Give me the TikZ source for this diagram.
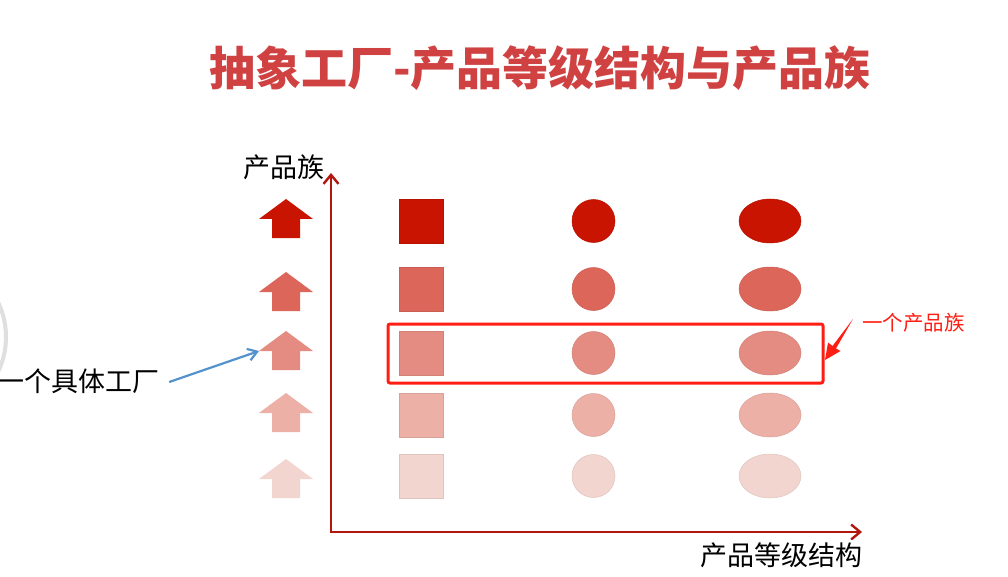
\documentclass[tikz,border=0pt]{standalone}
\usepackage{fontspec}
\newfontfamily\cjk{Noto Sans CJK SC}
\usetikzlibrary{arrows.meta,shapes.geometric}
\definecolor{c1}{RGB}{200,20,0}
\definecolor{c2}{RGB}{221,102,90}
\definecolor{c3}{RGB}{228,140,130}
\definecolor{c4}{RGB}{236,176,166}
\definecolor{c5}{RGB}{243,213,207}
\definecolor{titlered}{RGB}{208,66,66}
\definecolor{axisred}{RGB}{178,22,12}
\definecolor{boxred}{RGB}{255,30,20}
\definecolor{bluea}{RGB}{84,146,204}
\tikzset{
  sq/.style={rectangle, minimum size=44pt, inner sep=0pt, fill=#1, draw=#1!92!black, line width=0.5pt},
  circ/.style={circle, minimum size=43pt, inner sep=0pt, fill=#1, draw=#1!92!black, line width=0.5pt},
  ell/.style={ellipse, minimum width=62pt, minimum height=44pt, inner sep=0pt, fill=#1, draw=#1!92!black, line width=0.5pt},
  uparr/.pic={
    \fill[pic actions] (0,-19.5) -- (27,0.5) -- (14,0.5) -- (14,19.5) -- (-14,19.5) -- (-14,0.5) -- (-27,0.5) -- cycle;
    \coordinate (-tip) at (-27,0.5);
  },
  axis/.style={draw=axisred, line width=2.4pt, {Straight Barb[length=9pt,width=15pt]}-{Straight Barb[length=9pt,width=15pt]}},
  lbl/.style={font=\cjk\fontsize{27}{27}\selectfont, text=black, inner sep=0pt},
  famrect/.style={draw=boxred, line width=3pt, rounded corners=2pt, inner sep=0pt},
  bluearrow/.style={draw=bluea, line width=2.2pt, -{Straight Barb[length=9pt,width=12pt]}},
}
\begin{document}
\begin{tikzpicture}[x=1pt,y=-1pt]
\useasboundingbox (0,0) rectangle (1008,577);
\fill[white] (0,0) rectangle (1008,577);
% partial gray circle at left edge
\draw[gray!25, line width=4pt] (-74,337) circle (80);
% title
\node[text=titlered, inner sep=0pt] (title) at (540,68)
  {\cjk\bfseries\fontsize{46}{46}\selectfont 抽象工厂-产品等级结构与产品族};
% axes
\coordinate (ytop) at (331,173);
\coordinate (O) at (331,532);
\coordinate (xend) at (862,532);
\draw[axis] (ytop) -- (O) -- (xend);
\node[lbl] (ylab) at (284,167) {产品族};
\node[lbl] (xlab) at (781,555) {产品等级结构};
% factory arrows
\pic[fill=c1] (a1) at (286,218.5) {uparr};
\pic[fill=c2] (a2) at (286,291.5) {uparr};
\pic[fill=c3] (a3) at (286,350.5) {uparr};
\pic[fill=c4] (a4) at (286,412.5) {uparr};
\pic[fill=c5] (a5) at (286,478.5) {uparr};
% products
\node[sq=c1] (s1) at (421,221) {};
\node[sq=c2] (s2) at (421,289) {};
\node[sq=c3] (s3) at (421,353) {};
\node[sq=c4] (s4) at (421,415) {};
\node[sq=c5] (s5) at (421,476) {};
\node[circ=c1] (k1) at (593.5,221) {};
\node[circ=c2] (k2) at (593.5,289) {};
\node[circ=c3] (k3) at (593.5,353) {};
\node[circ=c4] (k4) at (593.5,415) {};
\node[circ=c5] (k5) at (593.5,476) {};
\node[ell=c1] (e1) at (770,221) {};
\node[ell=c2] (e2) at (770,289) {};
\node[ell=c3] (e3) at (770,353) {};
\node[ell=c4] (e4) at (770,415) {};
\node[ell=c5] (e5) at (770,476) {};
% product family box
\node[famrect, minimum width=435pt, minimum height=59pt] (box) at (605.5,353.5) {};
\node[font=\cjk\fontsize{20.5}{20.5}\selectfont, text=boxred, inner sep=0pt] (fam) at (913.5,323) {一个产品族};
% wedge callout
\coordinate (wtail) at (853,319);
\coordinate (wtip) at (825,360);
\fill[boxred] (wtail) -- (836,348.5) -- (840.5,351) -- (wtip) -- (828,342.5) -- (832.5,346) -- cycle;
% concrete factory label
\node[lbl] (fac) at (79,381) {一个具体工厂};
\draw[bluearrow] ([xshift=9pt,yshift=-1pt]fac.east) -- (a3-tip);
\end{tikzpicture}
\end{document}
